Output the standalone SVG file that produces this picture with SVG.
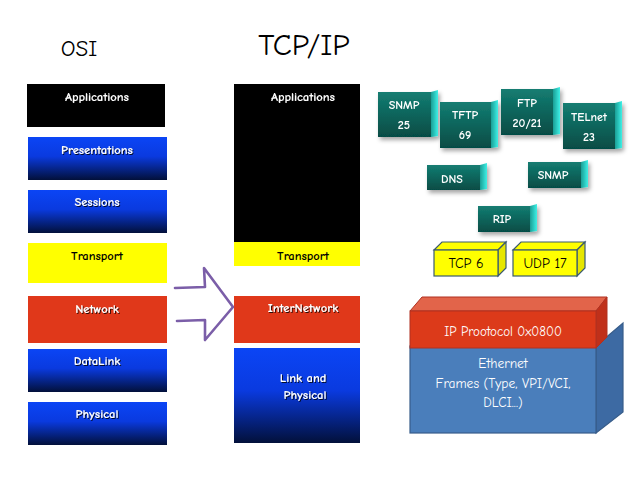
<svg xmlns="http://www.w3.org/2000/svg" width="638" height="479" viewBox="0 0 638 479">
<defs>
<linearGradient id="blueG" x1="0" y1="0" x2="0" y2="1">
<stop offset="0" stop-color="#0b45f5"/><stop offset="0.45" stop-color="#0a3adf"/><stop offset="1" stop-color="#02103a"/>
</linearGradient>
<linearGradient id="tealG" x1="0" y1="0" x2="0" y2="1">
<stop offset="0" stop-color="#147d72"/><stop offset="1" stop-color="#064c45"/>
</linearGradient>
<linearGradient id="bevG" x1="0" y1="0" x2="1" y2="0">
<stop offset="0" stop-color="#1a9e95"/><stop offset="1" stop-color="#3ef0e6"/>
</linearGradient>
<filter id="sh" x="-20%" y="-20%" width="150%" height="150%">
<feDropShadow dx="2" dy="3" stdDeviation="2" flood-color="#000" flood-opacity="0.35"/>
</filter>
<filter id="tsh" x="-10%" y="-30%" width="130%" height="170%">
<feDropShadow dx="1" dy="1" stdDeviation="0.6" flood-color="#000" flood-opacity="0.8"/>
</filter>
</defs>
<style>
text{font-family:"Comic Neue","DejaVu Sans","Liberation Sans",sans-serif;text-anchor:middle;dominant-baseline:central}
.w{fill:#fff;font-size:12.5px;font-weight:bold;filter:url(#tsh)}
.k{fill:#000;font-size:12.5px;font-weight:bold}
.t{fill:#fff;font-size:12px;font-weight:bold}
.y{fill:#ffff00;stroke:#3a5a70;stroke-width:1.2}
.big{fill:#000;font-size:26px}
.eth{fill:#fff;font-size:13.5px}
</style>
<rect width="638" height="479" fill="#fff"/>
<g id="titles">
<text x="79" y="48" class="big" style="font-size:23px">OSI</text>
<text x="304" y="45" class="big" style="font-size:31px">TCP/IP</text>
</g>
<g id="osi-applications"><rect x="27" y="84" width="138" height="43" fill="#000"/><text x="97" y="97" class="w">Applications</text></g>
<g id="osi-presentations"><rect x="28" y="137" width="139" height="43" fill="url(#blueG)"/><text x="97" y="150" class="w">Presentations</text></g>
<g id="osi-sessions"><rect x="28" y="190" width="139" height="43" fill="url(#blueG)"/><text x="97" y="202" class="w">Sessions</text></g>
<g id="osi-transport"><rect x="28" y="243" width="139" height="40" fill="#ffff00"/><text x="97" y="256" class="k">Transport</text></g>
<g id="osi-network"><rect x="28" y="296" width="139" height="47" fill="#e0381a"/><text x="97" y="309" class="w">Network</text></g>
<g id="osi-datalink"><rect x="28" y="349" width="139" height="43" fill="url(#blueG)"/><text x="97" y="361" class="w">DataLink</text></g>
<g id="osi-physical"><rect x="28" y="402" width="139" height="43" fill="url(#blueG)"/><text x="97" y="414" class="w">Physical</text></g>

<g id="tcp-applications"><rect x="234" y="84" width="126" height="158" fill="#000"/><text x="303" y="97" class="w">Applications</text></g>
<g id="tcp-transport"><rect x="234" y="242" width="126" height="24" fill="#ffff00"/><text x="303" y="256" class="k">Transport</text></g>
<g id="tcp-internetwork"><rect x="234" y="296" width="126" height="47" fill="#e0381a"/><text x="303" y="308" class="w">InterNetwork</text></g>
<g id="tcp-link"><rect x="234" y="348" width="126" height="95" fill="url(#blueG)"/><text x="303" y="378" class="w">Link and</text><text x="305" y="395" class="w">Physical</text></g>

<g id="connectors">
<path d="M175 288 L205 287 L204 268 L233 307 L205 340 L205 320 L177 321" fill="none" stroke="#7b5ea8" stroke-width="2.6" stroke-linejoin="round" stroke-linecap="round"/>
</g>

<g id="snmp25" filter="url(#sh)"><rect x="378" y="92" width="53" height="45" fill="url(#tealG)"/><polygon points="431,92 438,90 438,136 431,137" fill="url(#bevG)"/><text x="404" y="105" class="t">SNMP</text><text x="404" y="125" class="t">25</text></g>
<g id="tftp69" filter="url(#sh)"><rect x="440" y="102" width="51" height="46" fill="url(#tealG)"/><polygon points="491,102 498,100 498,147 491,148" fill="url(#bevG)"/><text x="465" y="115" class="t">TFTP</text><text x="465" y="135" class="t">69</text></g>
<g id="ftp2021" filter="url(#sh)"><rect x="501" y="89" width="52" height="46" fill="url(#tealG)"/><polygon points="553,89 560,87 560,134 553,135" fill="url(#bevG)"/><text x="527" y="103" class="t">FTP</text><text x="527" y="123" class="t">20/21</text></g>
<g id="telnet23" filter="url(#sh)"><rect x="563" y="103" width="52" height="46" fill="url(#tealG)"/><polygon points="615,103 622,101 622,148 615,149" fill="url(#bevG)"/><text x="589" y="117" class="t">TELnet</text><text x="589" y="137" class="t">23</text></g>
<g id="dns" filter="url(#sh)"><rect x="427" y="165" width="53" height="25" fill="url(#tealG)"/><polygon points="480,165 487,163 487,189 480,190" fill="url(#bevG)"/><text x="452" y="179" class="t">DNS</text></g>
<g id="snmp" filter="url(#sh)"><rect x="528" y="162" width="53" height="26" fill="url(#tealG)"/><polygon points="581,162 588,160 588,187 581,188" fill="url(#bevG)"/><text x="553" y="175" class="t">SNMP</text></g>
<g id="rip" filter="url(#sh)"><rect x="478" y="206" width="52" height="26" fill="url(#tealG)"/><polygon points="530,206 537,204 537,231 530,232" fill="url(#bevG)"/><text x="502" y="219" class="t">RIP</text></g>

<g id="tcp6">
<polygon points="434,250 442,242 506,242 498,250" class="y"/>
<polygon points="498,250 506,242 506,268 498,276" class="y" style="fill:#e6e600"/>
<rect x="434" y="250" width="64" height="26" class="y"/>
<text x="466" y="263" style="font-size:14px;fill:#000">TCP 6</text>
</g>
<g id="udp17">
<polygon points="513,250 521,242 585,242 577,250" class="y"/>
<polygon points="577,250 585,242 585,268 577,276" class="y" style="fill:#e6e600"/>
<rect x="513" y="250" width="64" height="26" class="y"/>
<text x="545" y="263" style="font-size:14px;fill:#000">UDP 17</text>
</g>
<g id="ethernet">
<polygon points="596,346 623,323 623,412 596,433" fill="#3d6aa3" stroke="#385d8a" stroke-width="1.2"/>
<rect x="410" y="346" width="186" height="87" fill="#4a7ebb" stroke="#385d8a" stroke-width="1.2"/>
<text x="503" y="363" class="eth">Ethernet</text>
<text x="503" y="383" class="eth">Frames (Type, VPI/VCI,</text>
<text x="503" y="402" class="eth">DLCI...)</text>
</g>
<g id="ip">
<polygon points="410,311 422,297 607,297 596,311" fill="#e2644a" stroke="#b03020" stroke-width="1"/>
<polygon points="596,311 607,297 607,337 596,348" fill="#c0301a" stroke="#b03020" stroke-width="1"/>
<rect x="410" y="311" width="186" height="37" fill="#dc3a1a" stroke="#b03020" stroke-width="1"/>
<text x="503" y="331" class="eth" style="font-size:13px">IP Prootocol 0x0800</text>
</g>
</svg>
